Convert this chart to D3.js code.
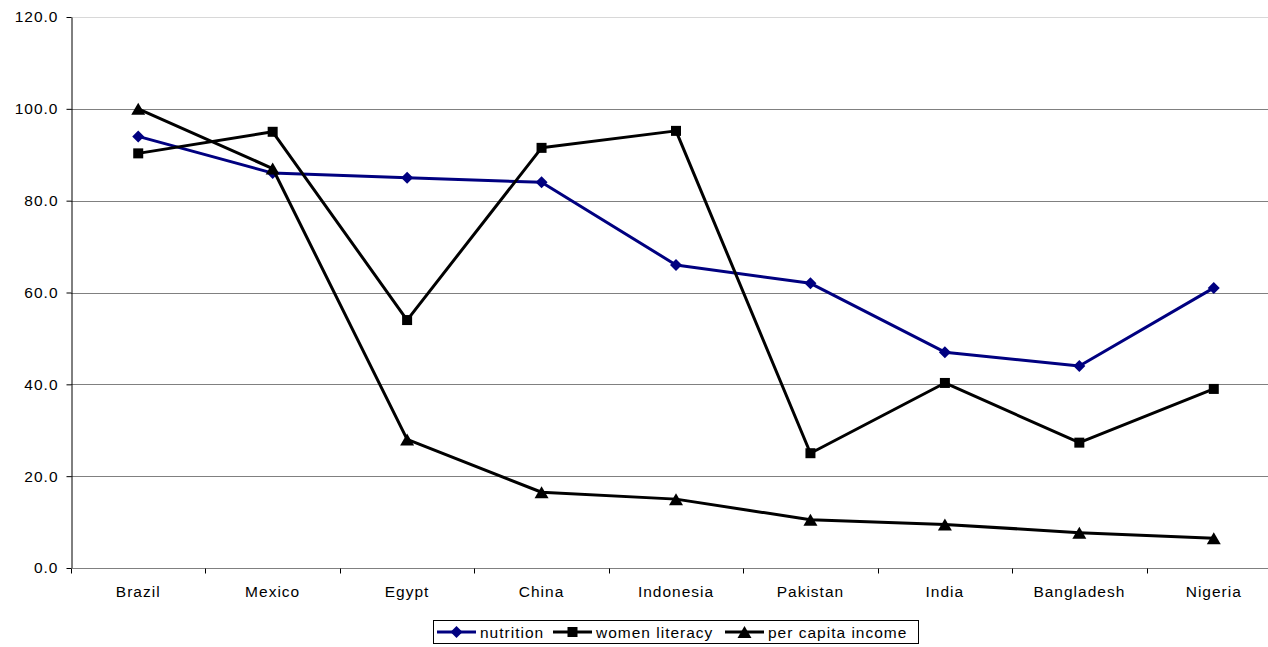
<!DOCTYPE html>
<html>
<head>
<meta charset="utf-8">
<script src="https://cdn.jsdelivr.net/npm/d3@7"></script>
<style>
  body { margin: 0; background: #fff; }
  text { font-family: "Liberation Sans", Arial, sans-serif; fill: #000; letter-spacing: 1px; }
</style>
</head>
<body>
<svg id="chart" width="1268" height="647"></svg>
<script>
const countries = ["Brazil", "Mexico", "Egypt", "China", "Indonesia", "Pakistan", "India", "Bangladesh", "Nigeria"];
const nutrition = [94, 86, 85, 84, 66, 62, 47, 44, 61];
const womenLiteracy = [90.3, 95, 54, 91.5, 95.2, 25, 40.3, 27.3, 39];
const perCapitaIncome = [100, 87, 28, 16.5, 15, 10.5, 9.5, 7.7, 6.5];
const yTicks = [0, 20, 40, 60, 80, 100, 120];

const series = [
  { name: "nutrition", values: nutrition, color: "#000080", marker: "diamond" },
  { name: "women literacy", values: womenLiteracy, color: "#000000", marker: "square" },
  { name: "per capita income", values: perCapitaIncome, color: "#000000", marker: "triangle" }
];

const svg = d3.select("#chart");
const plotLeft = 71, plotRight = 1281, plotTop = 17, plotBottom = 568;
const fontSize = 15.5;

const x = d3.scaleBand().domain(countries).range([plotLeft, plotRight]);
const y = d3.scaleLinear().domain([0, 120]).range([plotBottom, plotTop]);

// horizontal gridlines
svg.append("g").selectAll("line").data(yTicks.filter(d => d > 0)).join("line")
  .attr("x1", plotLeft).attr("x2", plotRight)
  .attr("y1", d => Math.round(y(d)) + 0.5).attr("y2", d => Math.round(y(d)) + 0.5)
  .attr("stroke", d => d === 120 ? "#d8d8d8" : "#808080")
  .attr("stroke-width", 1);

// y axis
const yAxis = svg.append("g").attr("transform", `translate(${plotLeft + 0.5},0)`)
  .call(d3.axisLeft(y).tickValues(yTicks).tickFormat(d3.format(".1f")).tickSizeInner(5).tickSizeOuter(0).tickPadding(8));
yAxis.select(".domain").attr("stroke", "#000");
yAxis.selectAll(".tick line").attr("stroke", "#000");
yAxis.selectAll("text").attr("font-size", fontSize).attr("font-family", "Liberation Sans, Arial, sans-serif");

// x axis with ticks at category boundaries
const xg = svg.append("g").attr("transform", `translate(0,${plotBottom + 0.5})`);
xg.append("line").attr("x1", plotLeft).attr("x2", plotRight).attr("stroke", "#808080");
const bounds = countries.map(c => x(c)).concat([plotRight]);
xg.selectAll("line.tk").data(bounds).join("line").attr("class", "tk")
  .attr("x1", d => Math.round(d) + 0.5).attr("x2", d => Math.round(d) + 0.5).attr("y1", 0).attr("y2", 5)
  .attr("stroke", "#000");
xg.selectAll("text").data(countries).join("text")
  .attr("x", d => x(d) + x.bandwidth() / 2).attr("y", 28)
  .attr("text-anchor", "middle").attr("font-size", fontSize).text(d => d);

const cx = c => x(c) + x.bandwidth() / 2;

function drawMarker(g, type, color, px, py) {
  if (type === "diamond") {
    g.append("path").attr("d", `M${px},${py - 6}L${px + 6},${py}L${px},${py + 6}L${px - 6},${py}Z`).attr("fill", color);
  } else if (type === "square") {
    g.append("rect").attr("x", px - 5).attr("y", py - 5).attr("width", 10).attr("height", 10).attr("fill", color);
  } else {
    g.append("path").attr("d", `M${px},${py - 6}L${px + 7},${py + 6}L${px - 7},${py + 6}Z`).attr("fill", color);
  }
}

const line = d3.line().x(d => cx(d.c)).y(d => y(d.v));
series.forEach(s => {
  const pts = countries.map((c, i) => ({ c, v: s.values[i] }));
  const g = svg.append("g");
  g.append("path").datum(pts).attr("d", line).attr("fill", "none")
    .attr("stroke", s.color).attr("stroke-width", 3).attr("stroke-linejoin", "round");
  pts.forEach(p => drawMarker(g, s.marker, s.color, cx(p.c), y(p.v)));
});

// legend
const lg = svg.append("g");
lg.append("rect").attr("x", 433.5).attr("y", 620.5).attr("width", 485).attr("height", 23)
  .attr("fill", "#fff").attr("stroke", "#000").attr("stroke-width", 1);
const legendX = [437, 553, 725];
series.forEach((s, i) => {
  const lx = legendX[i], ly = 632;
  lg.append("line").attr("x1", lx).attr("x2", lx + 39).attr("y1", ly).attr("y2", ly)
    .attr("stroke", s.color).attr("stroke-width", 3);
  drawMarker(lg, s.marker, s.color, lx + 19.5, ly);
  lg.append("text").attr("x", lx + 43).attr("y", ly + 5.5).attr("font-size", fontSize).text(s.name);
});
</script>
</body>
</html>
